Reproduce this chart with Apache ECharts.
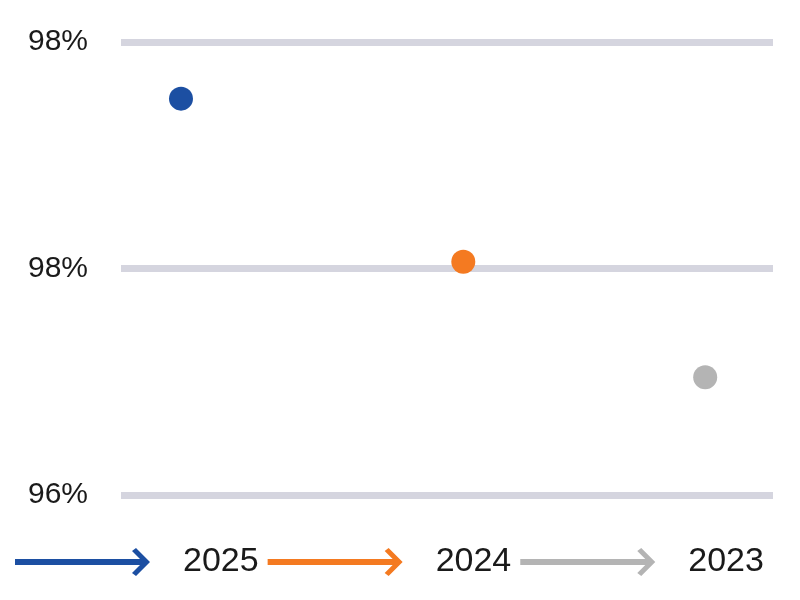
<!DOCTYPE html>
<html>
<head>
<meta charset="utf-8">
<script src="https://cdn.jsdelivr.net/npm/echarts@6/dist/echarts.min.js"></script>
<style>
  html, body { margin: 0; padding: 0; background: #fff; }
  #chart { width: 800px; height: 600px; }
</style>
</head>
<body>
<div id="chart"></div>
<script>
var years = ['2025', '2024', '2023'];
var xPos = [0.092, 0.525, 0.896];
var rates = [97.75, 97.03, 96.52];
var colors = ['#1c4fa2', '#f47a21', '#b4b4b4'];
var yTicks = [96, 97, 98];
var yTickLabels = ['96%', '98%', '98%'];

// arrow drawn as legend icon
var arrow = 'path://M0 11 L125 11 L117 3 L121 0 L135 14 L121 28 L117 25 L125 17 L0 17 Z';

var myChart = echarts.init(document.getElementById('chart'));

var series = years.map(function (y, i) {
  return {
    name: y,
    type: 'scatter',
    symbolSize: 24,
    itemStyle: { color: colors[i], opacity: 1 },
    data: [[xPos[i], rates[i]]]
  };
});

var option = {
  animation: false,
  grid: { left: 121, right: 27, top: 42, bottom: 105 },
  xAxis: {
    type: 'value',
    min: 0,
    max: 1,
    show: false
  },
  yAxis: {
    type: 'value',
    min: yTicks[0],
    max: yTicks[yTicks.length - 1],
    interval: 1,
    axisLine: { show: false },
    axisTick: { show: false },
    axisLabel: {
      margin: 33,
      fontSize: 30,
      color: '#1a1a1a',
      fontFamily: 'Liberation Sans',
      formatter: function (v) {
        var k = yTicks.indexOf(Math.round(v));
        return k >= 0 ? yTickLabels[k] : '';
      }
    },
    splitLine: { lineStyle: { color: '#d5d5df', width: 7 } }
  },
  legend: {
    left: 15,
    top: 545,
    padding: 0,
    itemWidth: 135,
    itemHeight: 28,
    itemGap: 9,
    selectedMode: false,
    data: years.map(function (y) { return { name: y, icon: arrow }; }),
    textStyle: {
      fontSize: 34,
      color: '#1a1a1a',
      fontFamily: 'Liberation Sans',
      padding: [0, 0, 0, 28]
    }
  },
  series: series
};
myChart.setOption(option);
</script>
</body>
</html>
